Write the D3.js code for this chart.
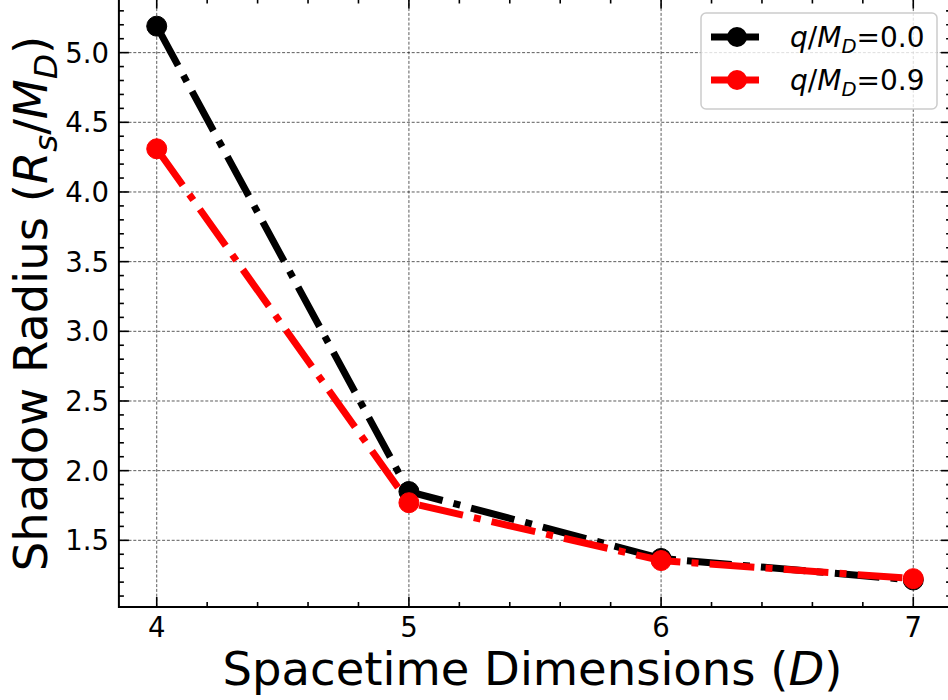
<!DOCTYPE html>
<html><head><meta charset="utf-8">
<script src="https://cdn.jsdelivr.net/npm/d3@7"></script>
<style>body{margin:0;background:#fff}svg{display:block}text{font-family:"DejaVu Sans",sans-serif}</style>
</head><body>
<svg id="c" width="948" height="700"></svg>
<script>
const dims = [4, 5, 6, 7];
const radiusQ00 = [5.19, 1.85, 1.37, 1.215];
const radiusQ09 = [4.31, 1.77, 1.355, 1.225];
const seriesNames = ["q/M_D=0.0", "q/M_D=0.9"];
const seriesColors = ["#000000", "#ff0000"];
const xMajor = [4, 5, 6, 7];
const yMajor = [1.5, 2.0, 2.5, 3.0, 3.5, 4.0, 4.5, 5.0];

const svg = d3.select("#c");
const x = d3.scaleLinear().domain([3.85, 7.15]).range([118.9, 951.1]);
const y = d3.scaleLinear().domain([1.0215, 5.3885]).range([607, -1.5]);
const L = x.range()[0], R = x.range()[1], T = y.range()[1], B = y.range()[0];

const xMinor = d3.range(4.2, 7.0, 0.2).filter(v => Math.abs(v - Math.round(v)) > 0.01);
const yMinor = d3.range(11, 54).map(v => v / 10).filter(v => Math.abs(v * 2 - Math.round(v * 2)) > 0.01);

// grid
const g = svg.append("g");
g.selectAll("line.gx").data(xMajor).join("line")
  .attr("x1", d => x(d)).attr("x2", d => x(d)).attr("y1", T).attr("y2", B)
  .attr("stroke", "#000").attr("stroke-width", 0.8).attr("stroke-dasharray", "3,1.8").attr("opacity", 0.8);
g.selectAll("line.gy").data(yMajor).join("line")
  .attr("y1", d => y(d)).attr("y2", d => y(d)).attr("x1", L).attr("x2", R)
  .attr("stroke", "#000").attr("stroke-width", 0.8).attr("stroke-dasharray", "3,1.8").attr("opacity", 0.8);

// series
const lw = 7;
const dash = [6.4, 1.6, 1.0, 1.6].map(v => v * lw).join(",");
const series = [radiusQ00, radiusQ09];
const line = d3.line().x((d, i) => x(dims[i])).y(d => y(d));
series.forEach((vals, si) => {
  const sg = svg.append("g");
  sg.append("path").attr("d", line(vals)).attr("fill", "none")
    .attr("stroke", seriesColors[si]).attr("stroke-width", lw)
    .attr("stroke-dasharray", dash).attr("stroke-linecap", "butt").attr("stroke-linejoin", "round");
  sg.selectAll("circle").data(vals).join("circle")
    .attr("cx", (d, i) => x(dims[i])).attr("cy", d => y(d)).attr("r", 10)
    .attr("fill", seriesColors[si]).attr("stroke", seriesColors[si]).attr("stroke-width", 1);
});

// ticks (inward, all sides)
const ax = svg.append("g").attr("stroke", "#000").attr("stroke-width", 1.6);
function ticks(vals, len, horiz) {
  vals.forEach(v => {
    if (horiz) {
      const px = x(v);
      ax.append("line").attr("x1", px).attr("x2", px).attr("y1", B).attr("y2", B - len);
      ax.append("line").attr("x1", px).attr("x2", px).attr("y1", T).attr("y2", T + len);
    } else {
      const py = y(v);
      ax.append("line").attr("y1", py).attr("y2", py).attr("x1", L).attr("x2", L + len);
      ax.append("line").attr("y1", py).attr("y2", py).attr("x1", R).attr("x2", R - len);
    }
  });
}
ticks(xMajor, 10, true); ticks(xMinor, 5, true);
ticks(yMajor, 10, false); ticks(yMinor, 5, false);

// spines
svg.append("rect").attr("x", L).attr("y", T).attr("width", R - L).attr("height", B - T)
  .attr("fill", "none").attr("stroke", "#000").attr("stroke-width", 2);

// tick labels
svg.append("g").selectAll("text").data(xMajor).join("text")
  .attr("x", d => x(d)).attr("y", 637).attr("text-anchor", "middle")
  .attr("font-size", 27.5).attr("fill", "#000").text(d => d3.format("d")(d));
svg.append("g").selectAll("text").data(yMajor).join("text")
  .attr("x", 109).attr("y", d => y(d)).attr("dy", "0.36em").attr("text-anchor", "end")
  .attr("font-size", 27.5).attr("fill", "#000").text(d => d3.format(".1f")(d));

// axis labels
function mathLabel(sel, parts, fs) {
  let shift = 0;
  parts.forEach(p => {
    const t = sel.append("tspan").text(p[0]);
    if (p[1]) t.attr("font-style", "italic");
    const target = p[2] ? fs * 0.22 : 0;
    if (target !== shift) { t.attr("dy", target - shift); shift = target; }
    if (p[2]) t.attr("font-size", fs * 0.7);
  });
}
const xl = svg.append("text").attr("x", (L + 946) / 2).attr("y", 685).attr("text-anchor", "middle")
  .attr("font-size", 46.5).attr("fill", "#000");
mathLabel(xl, [["Spacetime Dimensions (", false, false], ["D", true, false], [")", false, false]], 46.5);

const yl = svg.append("text").attr("transform", `translate(47,${(0 + B) / 2}) rotate(-90)`)
  .attr("text-anchor", "middle").attr("font-size", 46.5).attr("fill", "#000");
mathLabel(yl, [["Shadow Radius (", false, false], ["R", true, false], ["s", true, true], ["/", false, false], ["M", true, false], ["D", true, true], [")", false, false]], 46.5);

// legend
const lg = svg.append("g");
lg.append("rect").attr("x", 701).attr("y", 13).attr("width", 236).attr("height", 96).attr("rx", 5)
  .attr("fill", "#fff").attr("fill-opacity", 0.8).attr("stroke", "#cccccc").attr("stroke-width", 1.5);
const rowsY = [37, 80];
seriesNames.forEach((name, i) => {
  lg.append("line").attr("x1", 711).attr("x2", 759).attr("y1", rowsY[i]).attr("y2", rowsY[i])
    .attr("stroke", seriesColors[i]).attr("stroke-width", lw);
  lg.append("circle").attr("cx", 737).attr("cy", rowsY[i]).attr("r", 10).attr("fill", seriesColors[i]);
  const t = lg.append("text").attr("x", 790).attr("y", rowsY[i] + 9.5).attr("font-size", 28).attr("fill", "#000");
  const val = name.split("=")[1];
  mathLabel(t, [["q", true, false], ["/", false, false], ["M", true, false], ["D", true, true], ["=" + val, false, false]], 28);
});
</script>
</body></html>
